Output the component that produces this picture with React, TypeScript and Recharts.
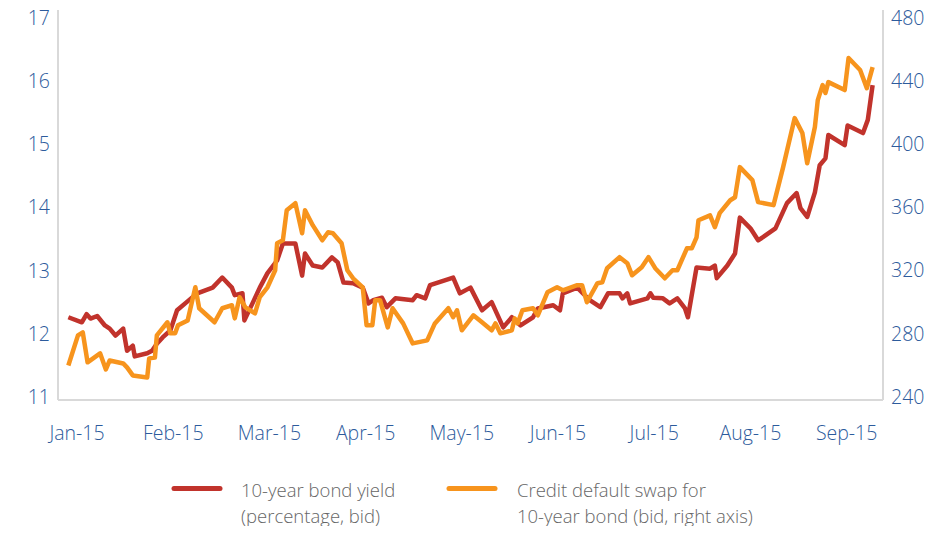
import React from "react";
import { LineChart, Line, XAxis, YAxis } from "recharts";

const monthLabels = [
  "Jan-15",
  "Feb-15",
  "Mar-15",
  "Apr-15",
  "May-15",
  "Jun-15",
  "Jul-15",
  "Aug-15",
  "Sep-15",
];

// position on the time axis, in months from the Jan-15 label
const yieldPos = [
  -0.09, 0.05, 0.1, 0.14, 0.21, 0.29, 0.34, 0.4, 0.48, 0.52, 0.58, 0.6, 0.73,
  0.78, 0.83, 0.89, 0.97, 1.04, 1.14, 1.25, 1.41, 1.51, 1.61, 1.64, 1.72, 1.74,
  1.83, 1.9, 1.98, 2.08, 2.14, 2.27, 2.34, 2.37, 2.45, 2.55, 2.65, 2.71, 2.77,
  2.87, 2.97, 3.03, 3.08, 3.17, 3.22, 3.31, 3.49, 3.53, 3.62, 3.67, 3.91, 3.98,
  4.09, 4.21, 4.31, 4.43, 4.52, 4.61, 4.74, 4.79, 4.95, 5.02, 5.05, 5.2, 5.33,
  5.44, 5.52, 5.64, 5.67, 5.72, 5.75, 5.93, 5.96, 5.99, 6.09, 6.16, 6.24, 6.32,
  6.35, 6.44, 6.58, 6.63, 6.65, 6.76, 6.84, 6.89, 7.0, 7.08, 7.13, 7.26, 7.38,
  7.48, 7.52, 7.59, 7.67, 7.72, 7.78, 7.81, 7.98, 8.01, 8.17, 8.22, 8.27,
];
// 10-year bond yield, percent
const yieldValues = [
  12.26, 12.18, 12.31, 12.24, 12.28, 12.13, 12.08, 11.97, 12.08, 11.73, 11.81,
  11.64, 11.69, 11.73, 11.84, 11.94, 12.05, 12.37, 12.5, 12.64, 12.73, 12.89,
  12.73, 12.61, 12.64, 12.21, 12.5, 12.73, 12.96, 13.16, 13.43, 13.43, 12.92,
  13.27, 13.08, 13.05, 13.21, 13.13, 12.81, 12.8, 12.73, 12.48, 12.53, 12.57,
  12.42, 12.56, 12.53, 12.61, 12.56, 12.77, 12.89, 12.64, 12.73, 12.37, 12.5,
  12.1, 12.26, 12.13, 12.26, 12.4, 12.45, 12.37, 12.64, 12.73, 12.53, 12.42,
  12.64, 12.64, 12.56, 12.64, 12.48, 12.56, 12.64, 12.57, 12.56, 12.48, 12.56,
  12.4, 12.26, 13.05, 13.03, 13.08, 12.88, 13.08, 13.27, 13.84, 13.67, 13.48,
  13.53, 13.67, 14.07, 14.23, 13.99, 13.85, 14.24, 14.67, 14.78, 15.15, 14.99,
  15.3, 15.18, 15.39, 15.94,
];

const cdsPos = [
  -0.09, 0.01, 0.06, 0.11, 0.24, 0.3, 0.34, 0.48, 0.52, 0.58, 0.73, 0.75, 0.81,
  0.83, 0.94, 0.97, 1.02, 1.05, 1.15, 1.23, 1.27, 1.43, 1.51, 1.61, 1.64, 1.69,
  1.75, 1.85, 1.9, 1.98, 2.06, 2.08, 2.14, 2.18, 2.27, 2.34, 2.37, 2.45, 2.55,
  2.61, 2.66, 2.75, 2.81, 2.87, 2.97, 3.01, 3.07, 3.1, 3.15, 3.23, 3.28, 3.39,
  3.49, 3.64, 3.72, 3.86, 3.91, 3.95, 4.0, 4.12, 4.21, 4.31, 4.35, 4.4, 4.52,
  4.55, 4.58, 4.63, 4.74, 4.79, 4.89, 4.99, 5.05, 5.2, 5.25, 5.3, 5.41, 5.46,
  5.51, 5.64, 5.72, 5.77, 5.87, 5.94, 6.01, 6.11, 6.19, 6.24, 6.34, 6.39, 6.44,
  6.46, 6.58, 6.63, 6.68, 6.79, 6.84, 6.89, 7.02, 7.08, 7.24, 7.34, 7.46, 7.54,
  7.59, 7.67, 7.7, 7.75, 7.78, 7.81, 7.98, 8.02, 8.14, 8.21, 8.27,
];
// credit default swap for 10-year bond, bid, basis points (right axis)
const cdsValues = [
  259.8, 278.9, 280.8, 261.8, 267.5, 257.3, 263, 261.1, 258.6, 253.5, 252.2,
  264.3, 264.9, 278.9, 287.2, 280.2, 280.2, 285.3, 288.4, 309.4, 296.1, 287.2,
  296.1, 298, 289.7, 303.1, 296.7, 292.9, 303.1, 309.4, 320.2, 337.3, 339.2,
  358.3, 362.7, 343.7, 358.3, 348.8, 339.2, 344.3, 343.7, 337.3, 320.2, 315.1,
  309.4, 285.3, 285.3, 301.2, 301.2, 284, 296.1, 286.5, 273.8, 275.7, 286.5,
  296.1, 290.4, 294.8, 282.1, 291.6, 287.2, 282.1, 286.5, 280.2, 282.1, 289.7,
  286.5, 294.8, 296.1, 291.6, 306.2, 309.4, 307.5, 310.7, 310.7, 299.9, 312,
  312.6, 321.5, 328.5, 324.7, 317, 322.1, 328.5, 321.5, 315.1, 320.2, 320.2,
  334.1, 334.1, 341.1, 351.9, 355, 347.5, 356.4, 364.6, 366.5, 385.6, 377.4,
  363.4, 361.5, 385.6, 416.7, 407.2, 388.1, 411, 428.1, 437.6, 432.6, 439.5,
  434.5, 454.8, 447.2, 435.7, 449,
];

const leftTicks = [11, 12, 13, 14, 15, 16, 17];
const rightTicks = [240, 280, 320, 360, 400, 440, 480];
const monthTicks = [0, 1, 2, 3, 4, 5, 6, 7, 8];

const yieldData = yieldPos.map((t, i) => ({ t, v: yieldValues[i] }));
const cdsData = cdsPos.map((t, i) => ({ t, v: cdsValues[i] }));

const RED = "#c1332c";
const ORANGE = "#f7941d";
const BLUE = "#2d5b9c";
const AXIS = "#d9d9d9";
const tickStyle = { fill: BLUE, fontSize: 19.5 };

const legendText = {
  position: "absolute" as const,
  top: 477,
  fontSize: 18.5,
  lineHeight: "25.5px",
  color: "#666",
  whiteSpace: "nowrap" as const,
};

const App = () => {
  return (
    <div
      style={{
        position: "relative",
        width: 943,
        height: 534,
        margin: -8,
        background: "#fff",
        fontFamily: "'Open Sans', sans-serif",
        fontWeight: 300,
      }}
    >
      <LineChart
        width={943}
        height={450}
        margin={{ top: 10, right: 0, bottom: 0, left: 0 }}
      >
        <XAxis
          type="number"
          dataKey="t"
          domain={[-0.1975, 8.378]}
          allowDataOverflow
          ticks={monthTicks}
          tickFormatter={(v) => monthLabels[v]}
          tickLine={false}
          tickMargin={20}
          height={50}
          axisLine={{ stroke: AXIS, strokeWidth: 2 }}
          tick={tickStyle}
          interval={0}
        />
        <YAxis
          yAxisId="left"
          domain={[10.948, 17.132]}
          allowDataOverflow
          ticks={leftTicks}
          width={58}
          tickLine={false}
          axisLine={{ stroke: AXIS, strokeWidth: 2 }}
          tick={tickStyle}
          interval={0}
        />
        <YAxis
          yAxisId="right"
          orientation="right"
          domain={[237.91, 485.26]}
          allowDataOverflow
          ticks={rightTicks}
          width={60}
          tickLine={false}
          axisLine={{ stroke: AXIS, strokeWidth: 2 }}
          tick={tickStyle}
          interval={0}
        />
        <Line
          yAxisId="left"
          data={yieldData}
          dataKey="v"
          type="linear"
          stroke={RED}
          strokeWidth={4.5}
          strokeLinejoin="round"
          dot={false}
          isAnimationActive={false}
        />
        <Line
          yAxisId="right"
          data={cdsData}
          dataKey="v"
          type="linear"
          stroke={ORANGE}
          strokeWidth={4.5}
          strokeLinejoin="round"
          dot={false}
          isAnimationActive={false}
        />
      </LineChart>

      <svg
        width={943}
        height={84}
        style={{ position: "absolute", left: 0, top: 450 }}
      >
        <line x1={174} y1={38.5} x2={220} y2={38.5} stroke={RED} strokeWidth={5} strokeLinecap="round" />
        <line x1={449} y1={38.5} x2={495} y2={38.5} stroke={ORANGE} strokeWidth={5} strokeLinecap="round" />
      </svg>
      <div style={{ ...legendText, left: 241 }}>
        10-year bond yield
        <br />
        (percentage, bid)
      </div>
      <div style={{ ...legendText, left: 517 }}>
        Credit default swap for
        <br />
        10-year bond (bid, right axis)
      </div>
    </div>
  );
};

export default App;
